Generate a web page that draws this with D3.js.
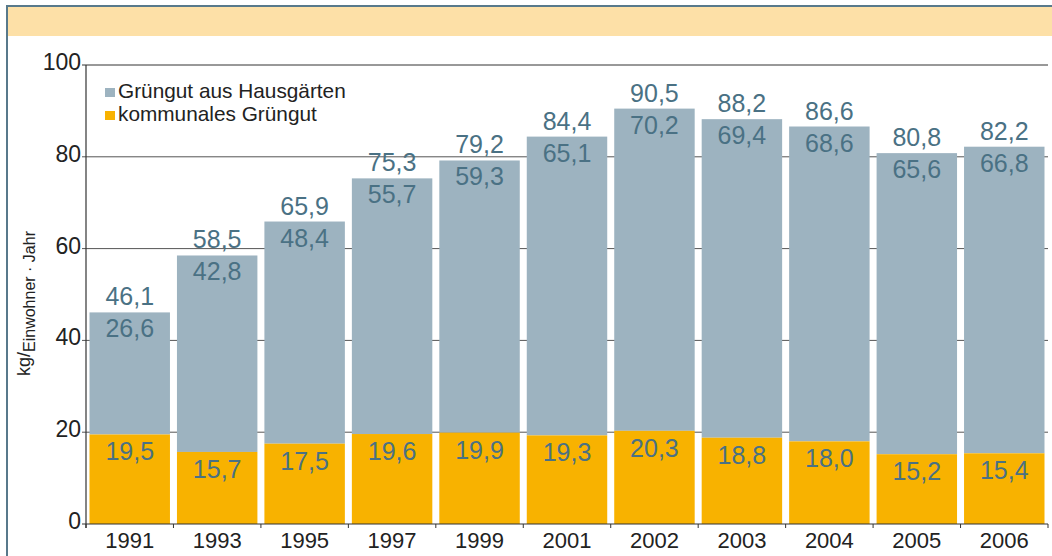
<!DOCTYPE html>
<html>
<head>
<meta charset="utf-8">
<script src="https://cdn.jsdelivr.net/npm/d3@7"></script>
<style>
  body { margin: 0; background: #fff; }
  text { font-family: "Liberation Sans", Arial, sans-serif; }
</style>
</head>
<body>
<script>
// data
var years = ["1991", "1993", "1995", "1997", "1999", "2001", "2002", "2003", "2004", "2005", "2006"];
var kommunal = [19.5, 15.7, 17.5, 19.6, 19.9, 19.3, 20.3, 18.8, 18.0, 15.2, 15.4];
var hausgarten = [26.6, 42.8, 48.4, 55.7, 59.3, 65.1, 70.2, 69.4, 68.6, 65.6, 66.8];
var totals = [46.1, 58.5, 65.9, 75.3, 79.2, 84.4, 90.5, 88.2, 86.6, 80.8, 82.2];
var yTicks = [0, 20, 40, 60, 80, 100];
var seriesNames = ["Grüngut aus Hausgärten", "kommunales Grüngut"];

var grey = "#9db3c0", orange = "#f8b200", labelColor = "#4a7184";
var fmt = function (v) { return v.toFixed(1).replace(".", ","); };

var svg = d3.select("body").append("svg")
  .attr("width", 1052)
  .attr("height", 556);

// frame + header band
svg.append("rect").attr("x", 8).attr("y", 7).attr("width", 1044).attr("height", 29).attr("fill", "#fde0a7");
svg.append("line").attr("x1", 6).attr("x2", 1052).attr("y1", 6).attr("y2", 6)
  .attr("stroke", "#58798b").attr("stroke-width", 2);
svg.append("line").attr("x1", 7).attr("x2", 7).attr("y1", 5).attr("y2", 556)
  .attr("stroke", "#58798b").attr("stroke-width", 2);

var x = d3.scaleBand().domain(years).range([86, 1048]).paddingInner(0.08).paddingOuter(0.04);
var y = d3.scaleLinear().domain([0, 100]).range([524, 65]);

// gridlines
svg.selectAll(".grid").data(yTicks.slice(1)).enter().append("line")
  .attr("x1", 82).attr("x2", 1048)
  .attr("y1", function (d) { return y(d); })
  .attr("y2", function (d) { return y(d); })
  .attr("stroke", function (d) { return d === 100 ? "#333" : "#555"; })
  .attr("stroke-width", 1);

// y tick labels
svg.selectAll(".ylab").data(yTicks).enter().append("text")
  .attr("x", 81)
  .attr("y", function (d) { return y(d) + 5; })
  .attr("text-anchor", "end")
  .attr("font-size", 23)
  .attr("fill", "#222")
  .text(function (d) { return d; });

// bars
var bars = svg.selectAll(".bar").data(years).enter().append("g");
bars.append("rect")
  .attr("x", function (d) { return x(d); })
  .attr("width", x.bandwidth())
  .attr("y", function (d, i) { return y(totals[i]); })
  .attr("height", function (d, i) { return y(kommunal[i]) - y(totals[i]); })
  .attr("fill", grey);
bars.append("rect")
  .attr("x", function (d) { return x(d); })
  .attr("width", x.bandwidth())
  .attr("y", function (d, i) { return y(kommunal[i]); })
  .attr("height", function (d, i) { return y(0) - y(kommunal[i]); })
  .attr("fill", orange);

var cx = function (d) { return x(d) + x.bandwidth() / 2; };
bars.append("text")
  .attr("x", cx)
  .attr("y", function (d, i) { return y(totals[i]) - 7; })
  .attr("text-anchor", "middle").attr("font-size", 25).attr("fill", labelColor)
  .text(function (d, i) { return fmt(totals[i]); });
bars.append("text")
  .attr("x", cx)
  .attr("y", function (d, i) { return y(totals[i]) + 25; })
  .attr("text-anchor", "middle").attr("font-size", 25).attr("fill", labelColor)
  .text(function (d, i) { return fmt(hausgarten[i]); });
bars.append("text")
  .attr("x", cx)
  .attr("y", function (d, i) { return y(kommunal[i]) + 26; })
  .attr("text-anchor", "middle").attr("font-size", 25).attr("fill", labelColor)
  .text(function (d, i) { return fmt(kommunal[i]); });

// axes
svg.append("line").attr("x1", 86).attr("x2", 86).attr("y1", 65).attr("y2", 528)
  .attr("stroke", "#333").attr("stroke-width", 1.2);
svg.append("line").attr("x1", 82).attr("x2", 1048).attr("y1", y(0)).attr("y2", y(0))
  .attr("stroke", "#333").attr("stroke-width", 1.2);
svg.selectAll(".xtick").data(d3.range(years.length + 1)).enter().append("line")
  .attr("x1", function (i) { return 86 + i * x.step(); })
  .attr("x2", function (i) { return 86 + i * x.step(); })
  .attr("y1", y(0)).attr("y2", y(0) + 4)
  .attr("stroke", "#333");
svg.selectAll(".xlab").data(years).enter().append("text")
  .attr("x", cx)
  .attr("y", 548)
  .attr("text-anchor", "middle").attr("font-size", 22).attr("fill", "#222")
  .text(function (d) { return d; });

// legend
var legend = svg.selectAll(".leg").data(seriesNames).enter().append("g")
  .attr("transform", function (d, i) { return "translate(105," + (88 + i * 23) + ")"; });
legend.append("rect").attr("width", 10).attr("height", 9)
  .attr("fill", function (d, i) { return i === 0 ? grey : orange; });
legend.append("text").attr("x", 13).attr("y", 10)
  .attr("font-size", 20.8).attr("fill", "#222")
  .text(function (d) { return d; });

// y title
var yt = svg.append("text")
  .attr("transform", "translate(30,376) rotate(-90)")
  .attr("font-size", 18).attr("fill", "#222");
yt.append("tspan").text("kg/");
yt.append("tspan").attr("dy", 5).attr("font-size", 16).text("Einwohner · Jahr");
</script>
</body>
</html>
